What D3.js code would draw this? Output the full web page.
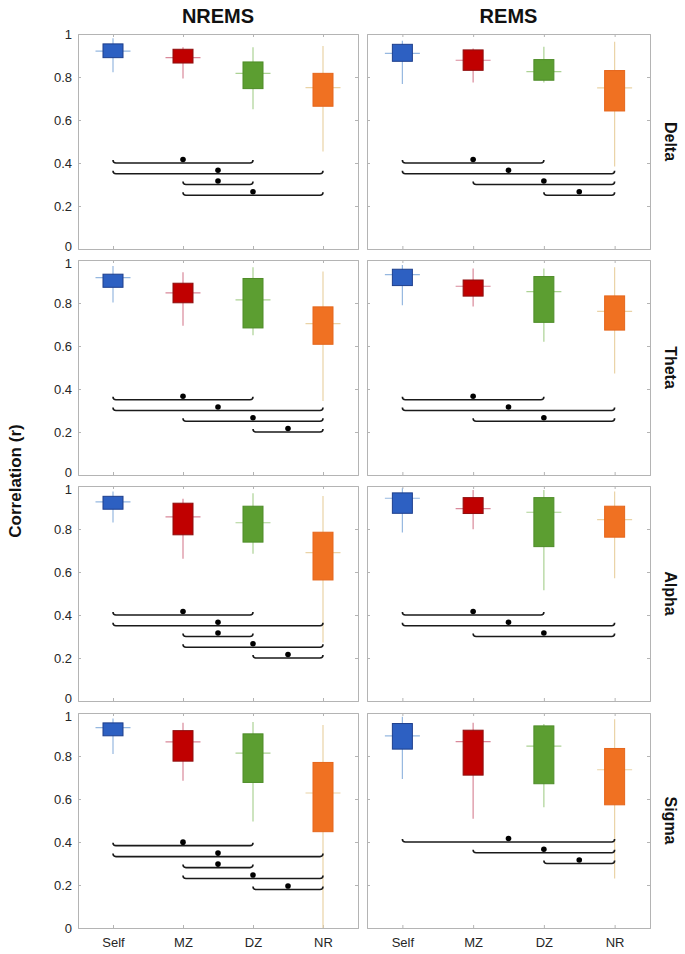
<!DOCTYPE html>
<html><head><meta charset="utf-8">
<script src="https://cdn.jsdelivr.net/npm/d3@7"></script>
<style>body{margin:0;background:#fff}svg{display:block;font-family:"Liberation Sans",Arial,sans-serif}</style>
</head><body>
<script>
// ---- data ----
const categories = ["Self", "MZ", "DZ", "NR"];
const stages = ["NREMS", "REMS"];
const bands = ["Delta", "Theta", "Alpha", "Sigma"];
const yTicks = [0, 0.2, 0.4, 0.6, 0.8, 1];
const yTickLabels = ["0", "0.2", "0.4", "0.6", "0.8", "1"];

// each entry: [whiskerLow, q1, median, q3, whiskerHigh] for Self, MZ, DZ, NR
const nremsDelta = [[0.822,0.890,0.920,0.954,0.980],[0.793,0.865,0.890,0.929,0.938],[0.650,0.746,0.817,0.870,0.938],[0.454,0.664,0.751,0.817,0.944]];
const remsDelta  = [[0.768,0.873,0.910,0.952,0.969],[0.774,0.831,0.878,0.926,0.933],[0.774,0.785,0.825,0.881,0.941],[0.384,0.642,0.749,0.830,0.964]];
const nremsTheta = [[0.802,0.873,0.918,0.934,0.972],[0.694,0.801,0.847,0.892,0.943],[0.650,0.684,0.815,0.914,0.966],[0.344,0.608,0.704,0.782,0.946]];
const remsTheta  = [[0.789,0.881,0.932,0.957,0.977],[0.784,0.832,0.878,0.907,0.961],[0.620,0.710,0.853,0.923,0.961],[0.472,0.674,0.761,0.833,0.966]];
const nremsAlpha = [[0.830,0.892,0.926,0.952,0.974],[0.662,0.773,0.856,0.920,0.941],[0.685,0.739,0.829,0.906,0.966],[0.272,0.563,0.690,0.785,0.954]];
const remsAlpha  = [[0.784,0.873,0.943,0.968,0.989],[0.799,0.872,0.895,0.946,0.981],[0.515,0.718,0.878,0.946,0.981],[0.571,0.762,0.844,0.906,0.974]];
const nremsSigma = [[0.809,0.894,0.932,0.954,0.975],[0.685,0.776,0.866,0.918,0.955],[0.495,0.677,0.813,0.903,0.958],[0.000,0.448,0.628,0.770,0.944]];
const remsSigma  = [[0.693,0.832,0.894,0.951,0.983],[0.508,0.711,0.867,0.920,0.955],[0.562,0.671,0.846,0.940,0.949],[0.230,0.573,0.736,0.835,0.971]];

// significance brackets: [fromCategoryIndex, toCategoryIndex, yValue]
const nremsDeltaSig = [[0,2,0.40],[0,3,0.35],[1,2,0.30],[1,3,0.25]];
const remsDeltaSig  = [[0,2,0.40],[0,3,0.35],[1,3,0.30],[2,3,0.25]];
const nremsThetaSig = [[0,2,0.35],[0,3,0.30],[1,3,0.25],[2,3,0.20]];
const remsThetaSig  = [[0,2,0.35],[0,3,0.30],[1,3,0.25]];
const nremsAlphaSig = [[0,2,0.40],[0,3,0.35],[1,2,0.30],[1,3,0.25],[2,3,0.20]];
const remsAlphaSig  = [[0,2,0.40],[0,3,0.35],[1,3,0.30]];
const nremsSigmaSig = [[0,2,0.383],[0,3,0.332],[1,2,0.281],[1,3,0.230],[2,3,0.179]];
const remsSigmaSig  = [[0,3,0.40],[1,3,0.35],[2,3,0.30]];

const boxData = [[nremsDelta, remsDelta],[nremsTheta, remsTheta],[nremsAlpha, remsAlpha],[nremsSigma, remsSigma]];
const sigData = [[nremsDeltaSig, remsDeltaSig],[nremsThetaSig, remsThetaSig],[nremsAlphaSig, remsAlphaSig],[nremsSigmaSig, remsSigmaSig]];

// ---- style ----
const fillColors = ["#2d60c2", "#c00000", "#5c9e31", "#f07122"];
const strokeColors = ["#1e3f8c", "#8e0f0f", "#4e8c28", "#e5661c"];
const whiskerColors = ["#96b8e0", "#d9899a", "#acd294", "#ead3a6"];

const W = 685, H = 954;
const colX = [[78, 358], [367, 650]];
const rowTop = [34, 260, 486, 713];
const panelH = 215;

const svg = d3.select("body").append("svg").attr("width", W).attr("height", H);

bands.forEach((band, r) => {
  stages.forEach((stage, c) => {
    const x = d3.scalePoint().domain(categories).range(colX[c]).padding(0.5);
    const y = d3.scaleLinear().domain([0, 1]).range([rowTop[r] + panelH, rowTop[r]]);
    const g = svg.append("g");
    const x0 = colX[c][0], x1 = colX[c][1], y0 = rowTop[r], y1 = rowTop[r] + panelH;

    // axes
    const left = g.append("g").attr("transform", `translate(${x0},0)`)
      .call(d3.axisLeft(y).tickValues(yTicks).tickSize(-3).tickPadding(6)
        .tickFormat((d, i) => c === 0 ? yTickLabels[i] : ""));
    const right = g.append("g").attr("transform", `translate(${x1},0)`)
      .call(d3.axisRight(y).tickValues(yTicks).tickSize(-3).tickFormat(""));
    const bottom = g.append("g").attr("transform", `translate(0,${y1})`)
      .call(d3.axisBottom(x).tickSize(-3).tickPadding(10).tickFormat(d => r === 3 ? d : ""));
    const top = g.append("g").attr("transform", `translate(0,${y0})`)
      .call(d3.axisTop(x).tickSize(-3).tickFormat(""));
    [left, right, bottom, top].forEach(a => {
      a.select(".domain").attr("stroke", "#b4b4b4");
      a.selectAll(".tick line").attr("stroke", "#b4b4b4");
      a.selectAll(".tick text").attr("fill", "#262626").style("font-size", "13px");
    });
    // nudge the stacked 0 / 1 labels apart a little (they sit close, as in the original)
    left.selectAll(".tick").filter(d => d === 0).select("text").attr("dy", r < 3 ? "0.1em" : "0.32em");
    left.selectAll(".tick").filter(d => d === 1).select("text").attr("dy", r > 0 ? "0.55em" : "0.32em");
    [left, right].forEach(a => a.selectAll(".tick").filter(d => d === 0 || d === 1).select("line").remove());

    const data = boxData[r][c];
    const bw = 20, mw = 35;
    data.forEach((s, i) => {
      const cx = x(categories[i]);
      g.append("line").attr("x1", cx).attr("x2", cx).attr("y1", y(s[0])).attr("y2", y(s[4]))
        .attr("stroke", whiskerColors[i]).attr("stroke-width", 1.2);
      g.append("line").attr("x1", cx - mw / 2).attr("x2", cx + mw / 2).attr("y1", y(s[2])).attr("y2", y(s[2]))
        .attr("stroke", whiskerColors[i]).attr("stroke-width", 1.2);
      g.append("rect").attr("x", cx - bw / 2).attr("width", bw)
        .attr("y", y(s[3])).attr("height", y(s[1]) - y(s[3]))
        .attr("fill", fillColors[i]).attr("stroke", strokeColors[i]).attr("stroke-width", 1);
    });

    // significance brackets
    sigData[r][c].forEach(([a, b, v]) => {
      const xa = x(categories[a]), xb = x(categories[b]), yy = y(v);
      g.append("path")
        .attr("d", `M${xa},${yy - 3} Q${xa},${yy} ${xa + 3},${yy} L${xb - 3},${yy} Q${xb},${yy} ${xb},${yy - 3}`)
        .attr("fill", "none").attr("stroke", "#1a1a1a").attr("stroke-width", 1.6);
      g.append("circle").attr("cx", (xa + xb) / 2).attr("cy", yy - 3.5).attr("r", 2.8).attr("fill", "#000");
    });

    if (r === 0) {
      svg.append("text").attr("x", (x0 + x1) / 2).attr("y", 23).attr("text-anchor", "middle")
        .style("font-size", "20px").style("font-weight", "bold").attr("fill", "#111").text(stage);
    }
    if (c === 1) {
      const cy = (y0 + y1) / 2;
      svg.append("text").attr("transform", `translate(665,${cy}) rotate(90)`).attr("text-anchor", "middle")
        .style("font-size", "16px").style("font-weight", "bold").attr("fill", "#111").text(band);
    }
  });
});

svg.append("text").attr("transform", `translate(21,${(rowTop[0] + rowTop[3] + panelH) / 2}) rotate(-90)`)
  .attr("text-anchor", "middle").style("font-size", "17px").style("font-weight", "bold").attr("fill", "#111")
  .text("Correlation (r)");
</script>
</body></html>
